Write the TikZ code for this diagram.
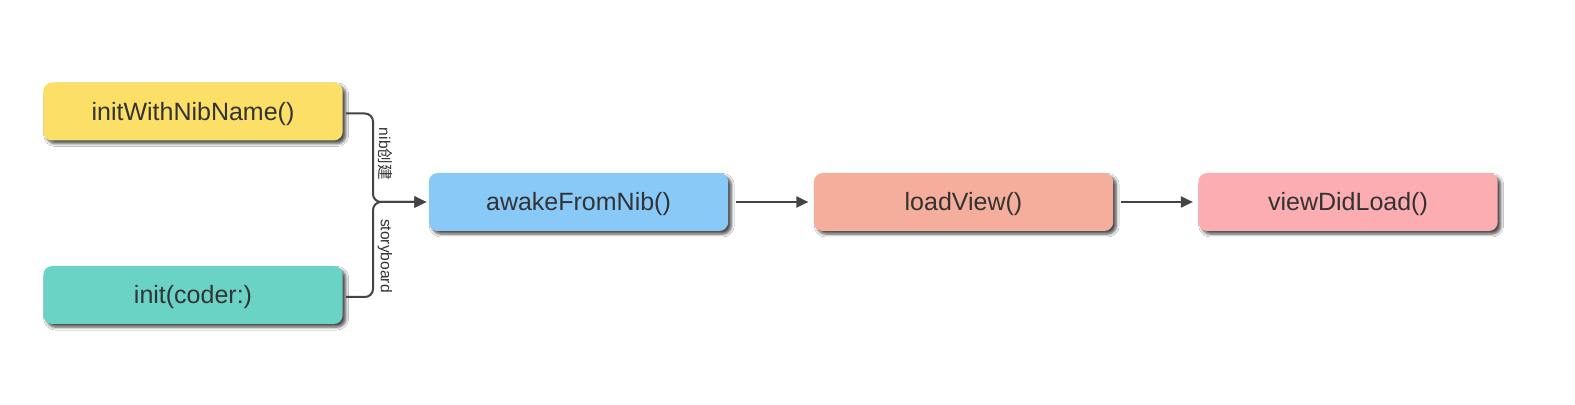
\documentclass[tikz,border=0pt]{standalone}
\usepackage{fontspec}
\setmainfont{Liberation Sans}
\newfontfamily\cjk{Noto Sans CJK SC}
\usetikzlibrary{arrows.meta,shadows.blur}
\definecolor{txt}{HTML}{333333}
\definecolor{linec}{HTML}{444444}
\definecolor{cyellow}{HTML}{FBDF66}
\definecolor{cteal}{HTML}{6AD3C6}
\definecolor{cblue}{HTML}{88C9F8}
\definecolor{csalmon}{HTML}{F5AE9B}
\definecolor{cpink}{HTML}{FBADB2}
\tikzset{
  fbox/.style={rounded corners=4.5pt, minimum width=149.7pt, minimum height=29pt, inner sep=0pt,
    text height=9pt, text depth=0pt,
    text=txt, font=\fontsize{12.5}{14}\selectfont,
    blur shadow={shadow xshift=1.6pt, shadow yshift=-1.6pt, shadow blur radius=1.4pt, shadow blur steps=6, shadow opacity=70}},
  conn/.style={draw=linec, line width=1pt, -{Triangle[length=6pt,width=5.5pt]}},
  lbl/.style={text=txt, font=\fontsize{7.8}{9}\selectfont, rotate=-90, inner sep=0pt}
}
\begin{document}
\begin{tikzpicture}[x=0.5pt,y=-0.5pt]
\useasboundingbox[fill=white] (0,0) rectangle (1575,405);
\node[fbox, fill=cyellow] (a) at (193,111.5) {initWithNibName()};
\node[fbox, fill=cteal] (b) at (193,295) {init(coder:)};
\node[fbox, fill=cblue] (aw) at (578.5,202) {awakeFromNib()};
\node[fbox, fill=csalmon] (lv) at (963.5,202) {loadView()};
\node[fbox, fill=cpink] (vd) at (1348,202) {viewDidLoad()};
\coordinate (j) at (373,202);
\draw[conn, rounded corners=4pt] ([xshift=1.5pt,yshift=-1pt]a.east) -| (j) -- ([xshift=-1pt]aw.west);
\draw[conn, rounded corners=4pt] ([xshift=1.5pt,yshift=-1pt]b.east) -| (j) -- ([xshift=-1pt]aw.west);
\node[lbl] (l1) at (385,154) {nib{\cjk 创建}};
\node[lbl] (l2) at (385,256) {storyboard};
\draw[conn] ([xshift=3.5pt]aw.east) -- ([xshift=-2.5pt]lv.west);
\draw[conn] ([xshift=3.5pt]lv.east) -- ([xshift=-2.5pt]vd.west);
\end{tikzpicture}
\end{document}
